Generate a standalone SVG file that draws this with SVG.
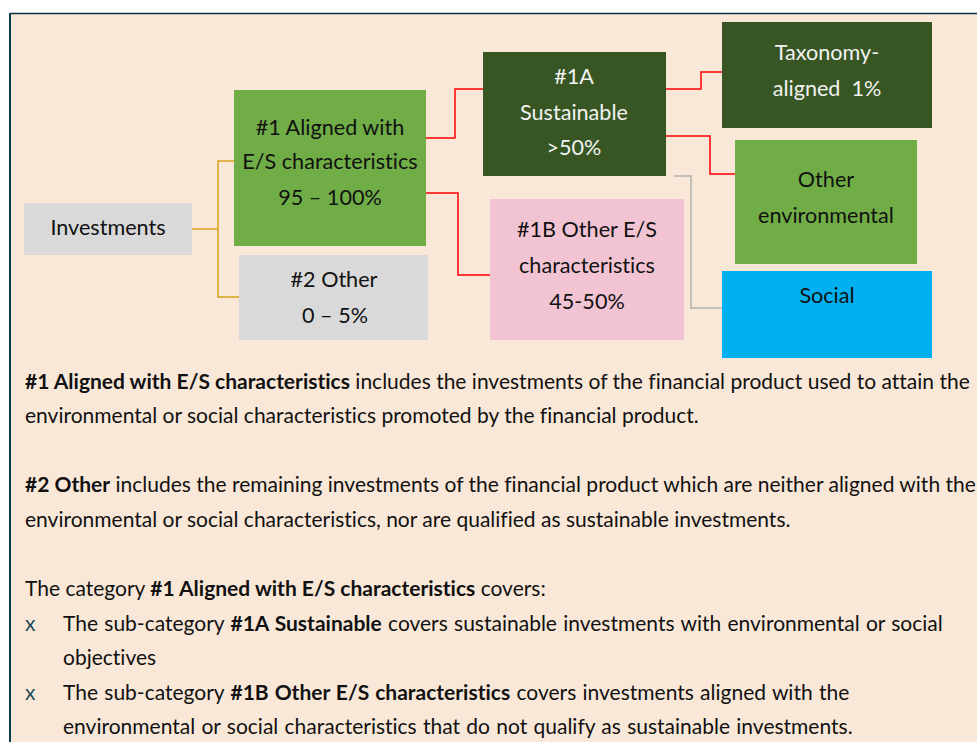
<svg xmlns="http://www.w3.org/2000/svg" width="977" height="742" viewBox="0 0 977 742">
<style>
text{font-family:Lato,"Open Sans","Liberation Sans",sans-serif;font-size:21px;fill:#111;font-variant-ligatures:none;}
.c{text-anchor:middle;font-size:21.6px;}
.w{fill:#f2f2f2;}
.b{font-weight:bold;}
.bx{fill:#1f4e5a;}
.ws{word-spacing:0.9px;}
.org{fill:none;stroke:#d9a21b;stroke-width:1.5;}
.red{fill:none;stroke:#ff0000;stroke-width:1.5;}
.gry{fill:none;stroke:#b0b0b0;stroke-width:1.5;}
</style>
<rect x="0" y="0" width="977" height="742" fill="#ffffff"/>
<rect x="10" y="14" width="980" height="740" fill="#f9e8d8"/>
<line x1="10" y1="13.5" x2="977" y2="13.5" stroke="#0b3140" stroke-width="1.5"/>
<line x1="10" y1="13" x2="10" y2="742" stroke="#0b3d4c" stroke-width="2"/>
<g id="connectors">
<polyline class="org" points="192,229 218,229"/>
<polyline class="org" points="234,161 218,161 218,297 239,297"/>
<polyline class="red" points="426,138 455,138 455,89 483,89"/>
<polyline class="red" points="426,193 458,193 458,275 490,275"/>
<polyline class="red" points="666,89 701,89 701,72 722,72"/>
<polyline class="red" points="666,136 710,136 710,174 735,174"/>
<polyline class="gry" points="674,176 691,176 691,308 722,308"/>
</g>
<g id="investments"><rect x="24" y="203" width="168" height="52" fill="#d9d9d9"/><text class="c" x="108" y="235">Investments</text></g>
<g id="aligned"><rect x="234" y="90" width="192" height="156" fill="#70ad47"/><text class="c" x="330" y="135">#1 Aligned with</text><text class="c" x="330" y="169">E/S characteristics</text><text class="c" x="330" y="205">95 – 100%</text></g>
<g id="other2"><rect x="239" y="255" width="189" height="85" fill="#d9d9d9"/><text class="c" x="334" y="287">#2 Other</text><text class="c" x="335" y="323">0 – 5%</text></g>
<g id="sustainable"><rect x="483" y="52" width="183" height="124" fill="#375623"/><text class="c w" x="574" y="84">#1A</text><text class="c w" x="574" y="120">Sustainable</text><text class="c w" x="574" y="155">&gt;50%</text></g>
<g id="otheres"><rect x="490" y="199" width="194" height="141" fill="#f2c4d3"/><text class="c" x="587" y="237">#1B Other E/S</text><text class="c" x="587" y="273">characteristics</text><text class="c" x="587" y="309">45-50%</text></g>
<g id="taxonomy"><rect x="722" y="22" width="210" height="106" fill="#375623"/><text class="c w" x="827" y="60">Taxonomy-</text><text class="c w" x="827" y="96" xml:space="preserve">aligned  1%</text></g>
<g id="otherenv"><rect x="735" y="140" width="182" height="124" fill="#70ad47"/><text class="c" x="826" y="187">Other</text><text class="c" x="826" y="223">environmental</text></g>
<g id="social"><rect x="722" y="271" width="210" height="87" fill="#00b0f0"/><text class="c" x="827" y="303">Social</text></g>
<g id="notes">
<text x="25" y="389"><tspan class="b">#1 Aligned with E/S characteristics</tspan> includes the investments of the financial product used to attain the</text>
<text x="25" y="423">environmental or social characteristics promoted by the financial product.</text>
<text x="25" y="492"><tspan class="b">#2 Other</tspan> includes the remaining investments of the financial product which are neither aligned with the</text>
<text x="25" y="527">environmental or social characteristics, nor are qualified as sustainable investments.</text>
<text x="25" y="596">The category <tspan class="b">#1 Aligned with E/S characteristics</tspan> covers:</text>
<text class="bx" x="25" y="631">x</text>
<text class="ws" x="63" y="631">The sub-category <tspan class="b">#1A Sustainable</tspan> covers sustainable investments with environmental or social</text>
<text x="63" y="665">objectives</text>
<text class="bx" x="25" y="700">x</text>
<text class="ws" x="63" y="700">The sub-category <tspan class="b">#1B Other E/S characteristics</tspan> covers investments aligned with the</text>
<text class="ws" x="63" y="734">environmental or social characteristics that do not qualify as sustainable investments.</text>
</g>
</svg>
